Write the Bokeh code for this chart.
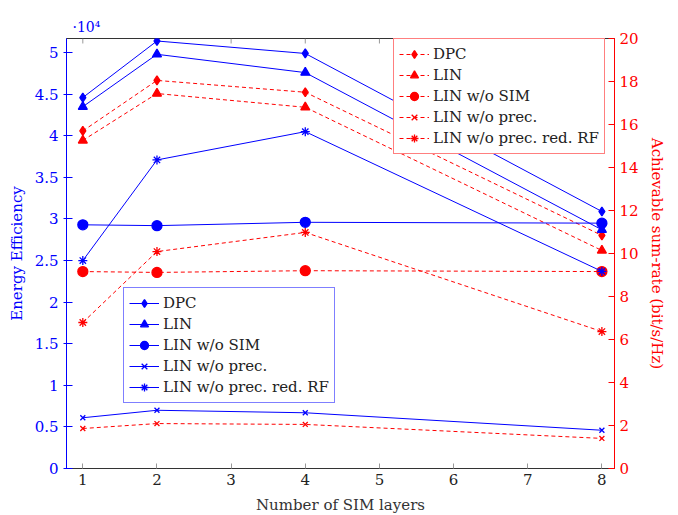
from bokeh.plotting import figure
from bokeh.models import Range1d, LinearAxis, Legend, LegendItem, FixedTicker
from bokeh.embed import file_html
from bokeh.resources import INLINE

layers = [1, 2, 4, 8]
x_ticks = [1, 2, 3, 4, 5, 6, 7, 8]
series = ["DPC", "LIN", "LIN w/o SIM", "LIN w/o prec.", "LIN w/o prec. red. RF"]
markers = ["diamond", "triangle", "circle", "x", "asterisk"]
sizes = [9, 9, 10, 7, 9]

# Energy efficiency (x 10^4)
ee_dpc = [4.46, 5.14, 4.99, 3.09]
ee_lin = [4.35, 4.98, 4.76, 2.87]
ee_lin_nosim = [2.93, 2.92, 2.96, 2.95]
ee_lin_noprec = [0.61, 0.70, 0.67, 0.46]
ee_lin_noprec_rf = [2.50, 3.71, 4.05, 2.37]

# Achievable sum-rate (bit/s/Hz)
sr_dpc = [15.7, 18.05, 17.5, 10.84]
sr_lin = [15.26, 17.44, 16.8, 10.14]
sr_lin_nosim = [9.16, 9.12, 9.2, 9.16]
sr_lin_noprec = [1.86, 2.09, 2.05, 1.40]
sr_lin_noprec_rf = [6.79, 10.09, 10.98, 6.37]

ee_all = [ee_dpc, ee_lin, ee_lin_nosim, ee_lin_noprec, ee_lin_noprec_rf]
sr_all = [sr_dpc, sr_lin, sr_lin_nosim, sr_lin_noprec, sr_lin_noprec_rf]

FONT = "DejaVu Serif"
FS = "15px"
BLUE = "#0000ff"
RED = "#ff0000"
Y_TOP = 5.17

p = figure(frame_width=548, frame_height=430, output_backend="svg", toolbar_location=None,
           x_range=Range1d(0.78, 8.17), y_range=Range1d(0, Y_TOP),
           min_border_left=66, min_border_right=56, min_border_top=38, min_border_bottom=38)
p.extra_y_ranges = {"rate": Range1d(0, 20)}
p.xgrid.visible = False
p.ygrid.visible = False
p.outline_line_color = "#333333"

p.title.text = "·10⁴"
p.title.align = "left"
p.title.offset = 6
p.title.text_color = BLUE
p.title.text_font = FONT
p.title.text_font_size = "14px"
p.title.text_font_style = "normal"
p.title.standoff = 8

# bottom axis
xa = p.xaxis[0]
xa.ticker = FixedTicker(ticks=x_ticks)
xa.axis_label = "Number of SIM layers"
xa.axis_label_text_font = FONT
xa.axis_label_text_font_style = "normal"
xa.axis_label_text_font_size = FS
xa.axis_label_text_color = "#333333"
xa.axis_label_standoff = 8
xa.major_label_text_font = FONT
xa.major_label_text_font_size = FS
xa.major_label_text_color = "#222222"
xa.major_tick_in = 5
xa.major_tick_out = 0
xa.minor_tick_line_color = None
xa.major_tick_line_color = "#999999"
xa.axis_line_color = "#333333"

# top tick marks (from the same tick list)
p.segment(x0=x_ticks, y0=[Y_TOP] * len(x_ticks), x1=x_ticks, y1=[Y_TOP - 0.06] * len(x_ticks),
          line_color="#999999", line_width=1)

# left axis
ya = p.yaxis[0]
ya.ticker = FixedTicker(ticks=[0, 0.5, 1, 1.5, 2, 2.5, 3, 3.5, 4, 4.5, 5])
ya.axis_label = "Energy Efficiency"
ya.axis_label_text_font = FONT
ya.axis_label_text_font_style = "normal"
ya.axis_label_text_font_size = FS
ya.axis_label_text_color = BLUE
ya.axis_label_standoff = 6
ya.major_label_text_font = FONT
ya.major_label_text_font_size = FS
ya.major_label_text_color = BLUE
ya.axis_line_color = BLUE
ya.major_tick_line_color = BLUE
ya.major_tick_in = 6
ya.major_tick_out = 3
ya.minor_tick_line_color = None

# right axis
ra = LinearAxis(y_range_name="rate", ticker=FixedTicker(ticks=list(range(0, 21, 2))))
ra.axis_label = "Achievable sum-rate (bit/s/Hz)"
ra.axis_label_text_font = FONT
ra.axis_label_text_font_style = "normal"
ra.axis_label_text_font_size = FS
ra.axis_label_text_color = RED
ra.axis_label_standoff = 6
ra.major_label_text_font = FONT
ra.major_label_text_font_size = FS
ra.major_label_text_color = RED
ra.axis_line_color = RED
ra.major_tick_line_color = RED
ra.major_tick_in = 6
ra.major_tick_out = 0
ra.minor_tick_line_color = None
p.add_layout(ra, "right")

blue_items = []
red_items = []
for name, mk, sz, ee, sr in zip(series, markers, sizes, ee_all, sr_all):
    bl = p.line(layers, ee, line_color=BLUE, line_width=1)
    bs = p.scatter(layers, ee, marker=mk, size=sz, line_color=BLUE, fill_color=BLUE, line_width=1.3)
    blue_items.append(LegendItem(label=name, renderers=[bl, bs]))
    rl = p.line(layers, sr, line_color=RED, line_width=1, line_dash="4 3", y_range_name="rate")
    rs = p.scatter(layers, sr, marker=mk, size=sz, line_color=RED, fill_color=RED, line_width=1.3,
                   y_range_name="rate")
    red_items.append(LegendItem(label=name, renderers=[rl, rs]))

def make_legend(items, color, loc):
    lg = Legend(items=items, location=loc, margin=0, padding=5, spacing=1,
                glyph_width=30, glyph_height=20, label_height=20,
                label_text_font=FONT, label_text_font_size=FS, label_text_color="#222222",
                border_line_color=color, border_line_width=1, background_fill_alpha=1,
                label_standoff=4)
    return lg

p.add_layout(make_legend(blue_items, BLUE, (57, 65)))
p.add_layout(make_legend(red_items, RED, (327, 314)))

open("out.html", "w").write(file_html(p, INLINE))
